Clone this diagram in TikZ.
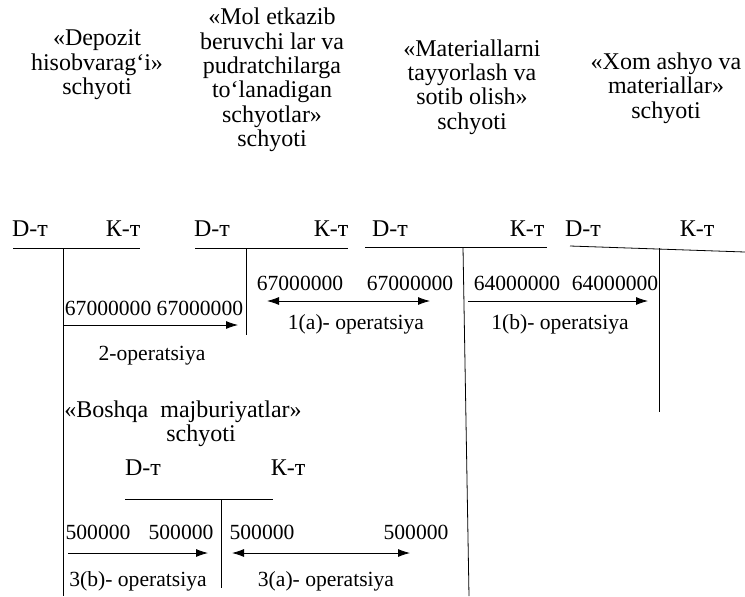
\documentclass[tikz,border=0pt]{standalone}
\usepackage{fontspec}
\setmainfont{Liberation Serif}
\usetikzlibrary{arrows.meta}

\begin{document}
\begin{tikzpicture}[x=0.5pt,y=-0.5pt,
  title/.style={align=center,inner sep=0pt,font=\rmfamily\fontsize{12}{12.2}\selectfont},
  side/.style={inner sep=0pt,font=\rmfamily\fontsize{12}{13}\selectfont},
  sum/.style={inner sep=0pt,font=\rmfamily\fontsize{10.8}{12}\selectfont},
  flow/.style={-{Latex[length=6pt,width=4pt]}},
  biflow/.style={{Latex[length=6pt,width=4pt]}-{Latex[length=6pt,width=4pt]}}]
\useasboundingbox (0,0) rectangle (745,596);
% account titles
\node[title] (dep) at (97,65) {«Depozit\\hisobvarag‘i»\\schyoti};
\node[title] (mol) at (272,80) {«Mol etkazib\\beruvchi lar va\\pudratchilarga\\to‘lanadigan\\schyotlar»\\schyoti};
\node[title] (mat) at (472,87) {«Materiallarni\\tayyorlash va\\sotib olish»\\schyoti};
\node[title] (xom) at (666,88) {«Xom ashyo va\\materiallar»\\schyoti};
\node[title] (bosh) at (183,424) {«Boshqa\ \ majburiyatlar»\\\hspace*{1.5em}schyoti};
% D-t / K-t
\foreach \n/\x/\y in {d1/30/229,d2/212/229,d3/390/229,d4/583/229,d5/143/468}
  \node[side] (\n) at (\x,\y) {D-т};
\foreach \n/\x/\y in {k1/123/229,k2/331/229,k3/527/229,k4/697/229,k5/288/468}
  \node[side] (\n) at (\x,\y) {К-т};
% T-accounts
\draw (13,248) -- (140,248); \draw (63,248) -- (63,596);
\draw (195,248) -- (348,248); \draw (246,248) -- (246,335);
\draw (365,247) -- (547,247); \draw (463,247) -- (469,596);
\draw (570,246) -- (745,252); \draw (659,248) -- (659,412);
\draw (125,499) -- (273,499); \draw (221,499) -- (221,588);
% sums
\node[sum] (s1) at (154,308) {67000000 67000000};
\node[sum] (s2) at (300,283) {67000000};
\node[sum] (s3) at (410,283) {67000000};
\node[sum] (s4) at (517,283) {64000000};
\node[sum] (s5) at (615,283) {64000000};
\node[sum] (s6) at (98,532) {500000};
\node[sum] (s7) at (181,532) {500000};
\node[sum] (s8) at (262,532) {500000};
\node[sum] (s9) at (416,532) {500000};
% arrows
\coordinate (a1) at (63,325); \coordinate (b1) at (238,325);
\coordinate (a2) at (267,301); \coordinate (b2) at (430,301);
\coordinate (a3) at (468,301); \coordinate (b3) at (648,301);
\coordinate (a4) at (68,553); \coordinate (b4) at (208,553);
\coordinate (a5) at (232,553); \coordinate (b5) at (410,553);
\draw[flow] (a1) -- (b1);
\draw[biflow] (a2) -- (b2);
\draw[flow] (a3) -- (b3);
\draw[flow] (a4) -- (b4);
\draw[biflow] (a5) -- (b5);
% operations
\node[sum] (o1) at (152,356) {2-operatsiya};
\node[sum] (o2) at (356,324) {1(a)- operatsiya};
\node[sum] (o3) at (560,324) {1(b)- operatsiya};
\node[sum] (o4) at (138,581) {3(b)- operatsiya};
\node[sum] (o5) at (326,581) {3(a)- operatsiya};
\end{tikzpicture}
\end{document}
